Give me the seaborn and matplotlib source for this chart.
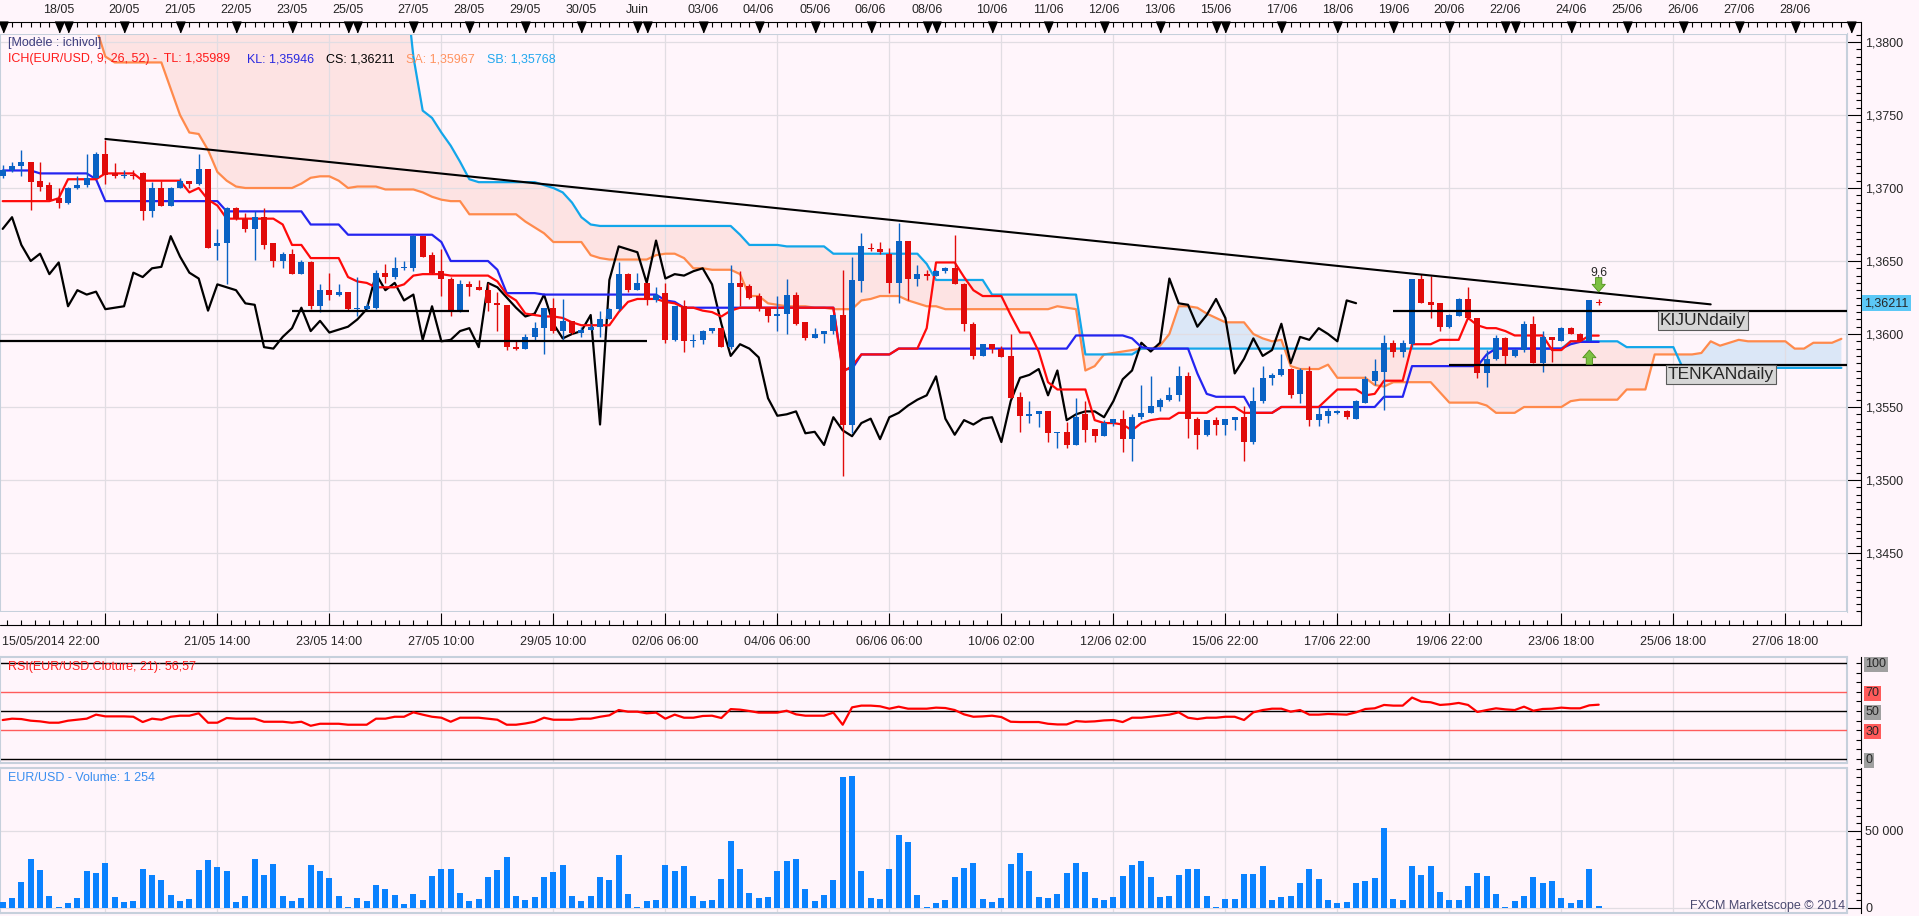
import numpy as np
import matplotlib
matplotlib.use("Agg")
import matplotlib.pyplot as plt
import matplotlib.transforms as mtransforms
from matplotlib.ticker import FixedLocator, MultipleLocator, FuncFormatter
import seaborn as sns

# ------------------------------------------------------------
# EUR/USD 4h candles
# bar 0 = 15/05 22:00 ... bar 171 = 24/06 10:00
# ------------------------------------------------------------
opens = [
    1.3708, 1.3712, 1.3715, 1.3718, 1.3705, 1.3702, 1.3693, 1.3690, 1.3700, 1.3702, 1.3707, 1.3723,
    1.3710, 1.3708, 1.3709, 1.3710, 1.3684, 1.3700, 1.3688, 1.3700, 1.3705, 1.3703, 1.3713, 1.3660,
    1.3662, 1.3686, 1.3679, 1.3672, 1.3680, 1.3662, 1.3650, 1.3655, 1.3641, 1.3649, 1.3619, 1.3630,
    1.3627, 1.3629, 1.3617, 1.3617, 1.3618, 1.3642, 1.3639, 1.3645, 1.3645, 1.3667, 1.3654, 1.3643,
    1.3638, 1.3616, 1.3634, 1.3632, 1.3630, 1.3621, 1.3620, 1.3591, 1.3590, 1.3598, 1.3604, 1.3618,
    1.3602, 1.3609, 1.3601, 1.3603, 1.3605, 1.3610, 1.3617, 1.3641, 1.3630, 1.3635, 1.3623, 1.3628,
    1.3596, 1.3619, 1.3595, 1.3596, 1.3602, 1.3604, 1.3591, 1.3635, 1.3633, 1.3626, 1.3618, 1.3612,
    1.3614, 1.3627, 1.3608, 1.3597, 1.3600, 1.3602, 1.3613, 1.3538, 1.3636, 1.3659, 1.3658, 1.3655,
    1.3635, 1.3664, 1.3638, 1.3641, 1.3640, 1.3643, 1.3645, 1.3634, 1.3607, 1.3585, 1.3593, 1.3590,
    1.3585, 1.3557, 1.3544, 1.3545, 1.3547, 1.3532, 1.3533, 1.3524, 1.3545, 1.3535, 1.3530, 1.3539,
    1.3542, 1.3528, 1.3543, 1.3546, 1.3550, 1.3555, 1.3558, 1.3571, 1.3542, 1.3531, 1.3541, 1.3538,
    1.3541, 1.3543, 1.3526, 1.3554, 1.3570, 1.3572, 1.3576, 1.3559, 1.3575, 1.3541, 1.3544, 1.3546,
    1.3547, 1.3542, 1.3553, 1.3568, 1.3574, 1.3594, 1.3588, 1.3593, 1.3638, 1.3622, 1.3621, 1.3605,
    1.3612, 1.3624, 1.3611, 1.3573, 1.3583, 1.3597, 1.3585, 1.3589, 1.3607, 1.3580, 1.3598, 1.3595,
    1.3604, 1.3600, 1.3595, 1.36215]
highs = [
    1.3716, 1.3718, 1.3726, 1.3718, 1.3718, 1.3704, 1.3700, 1.3701, 1.3708, 1.3723, 1.3725, 1.3733,
    1.3717, 1.3712, 1.3712, 1.3711, 1.3704, 1.3705, 1.3701, 1.3707, 1.3705, 1.3723, 1.3713, 1.3672,
    1.3687, 1.3687, 1.3683, 1.3684, 1.3686, 1.3662, 1.3656, 1.3658, 1.3651, 1.3650, 1.3634, 1.3642,
    1.3634, 1.3629, 1.3639, 1.3621, 1.3644, 1.3648, 1.3653, 1.3650, 1.3668, 1.3667, 1.3656, 1.3658,
    1.3639, 1.3637, 1.3636, 1.3637, 1.3635, 1.3629, 1.3620, 1.3596, 1.3600, 1.3608, 1.3618, 1.3625,
    1.3624, 1.3609, 1.3605, 1.3607, 1.3616, 1.3618, 1.3649, 1.3642, 1.3642, 1.3635, 1.3632, 1.3635,
    1.3619, 1.3623, 1.3600, 1.3603, 1.3604, 1.3604, 1.3647, 1.3643, 1.3634, 1.3628, 1.3618, 1.3626,
    1.3638, 1.3629, 1.3608, 1.3604, 1.3602, 1.3613, 1.3644, 1.3653, 1.3669, 1.3662, 1.3663, 1.3659,
    1.3676, 1.3664, 1.3647, 1.3644, 1.3644, 1.3646, 1.3668, 1.3635, 1.3608, 1.3593, 1.3593, 1.3592,
    1.3600, 1.3560, 1.3554, 1.3547, 1.3547, 1.3533, 1.3540, 1.3556, 1.3554, 1.3535, 1.3541, 1.3542,
    1.3548, 1.3545, 1.3565, 1.3571, 1.3556, 1.3564, 1.3578, 1.3574, 1.3543, 1.3541, 1.3543, 1.3542,
    1.3543, 1.3551, 1.3564, 1.3578, 1.3573, 1.3586, 1.3577, 1.3577, 1.3578, 1.3550, 1.3549, 1.3548,
    1.3548, 1.3555, 1.3571, 1.3583, 1.3599, 1.3596, 1.3596, 1.3638, 1.3641, 1.3640, 1.3621, 1.3614,
    1.3625, 1.3632, 1.3611, 1.3589, 1.3599, 1.3598, 1.3590, 1.3609, 1.3612, 1.3602, 1.3598, 1.3605,
    1.3605, 1.3601, 1.3623, 1.3624]
lows = [
    1.3707, 1.3711, 1.3708, 1.3685, 1.3698, 1.3692, 1.3686, 1.3689, 1.3699, 1.3701, 1.3707, 1.3703,
    1.3707, 1.3707, 1.3706, 1.3678, 1.3680, 1.3688, 1.3688, 1.3700, 1.3700, 1.3702, 1.3659, 1.3651,
    1.3634, 1.3678, 1.3670, 1.3651, 1.3658, 1.3646, 1.3645, 1.3641, 1.3641, 1.3617, 1.3615, 1.3623,
    1.3626, 1.3616, 1.3612, 1.3616, 1.3617, 1.3635, 1.3638, 1.3644, 1.3643, 1.3653, 1.3641, 1.3626,
    1.3612, 1.3615, 1.3626, 1.3630, 1.3616, 1.3602, 1.3589, 1.3589, 1.3590, 1.3595, 1.3586, 1.3601,
    1.3596, 1.3600, 1.3598, 1.3603, 1.3598, 1.3610, 1.3616, 1.3629, 1.3630, 1.3620, 1.3622, 1.3594,
    1.3595, 1.3588, 1.3591, 1.3593, 1.3601, 1.3591, 1.3590, 1.3619, 1.3624, 1.3616, 1.3608, 1.3602,
    1.3600, 1.3606, 1.3596, 1.3597, 1.3594, 1.3600, 1.3503, 1.3532, 1.3629, 1.3657, 1.3655, 1.3628,
    1.3621, 1.3623, 1.3633, 1.3637, 1.3640, 1.3642, 1.3634, 1.3602, 1.3583, 1.3585, 1.3587, 1.3584,
    1.3556, 1.3533, 1.3539, 1.3536, 1.3526, 1.3522, 1.3522, 1.3524, 1.3526, 1.3526, 1.3530, 1.3537,
    1.3519, 1.3513, 1.3542, 1.3546, 1.3547, 1.3554, 1.3554, 1.3529, 1.3521, 1.3530, 1.3531, 1.3531,
    1.3534, 1.3513, 1.3525, 1.3553, 1.3565, 1.3571, 1.3556, 1.3553, 1.3537, 1.3537, 1.3539, 1.3545,
    1.3542, 1.3542, 1.3553, 1.3565, 1.3548, 1.3584, 1.3584, 1.3591, 1.3621, 1.3611, 1.3602, 1.3604,
    1.3612, 1.3610, 1.3570, 1.3564, 1.3582, 1.3579, 1.3584, 1.3588, 1.3580, 1.3574, 1.3581, 1.3595,
    1.3600, 1.3595, 1.3595, 1.3620]
closes = [
    1.3712, 1.3715, 1.3718, 1.3704, 1.3701, 1.3692, 1.3690, 1.3700, 1.3702, 1.3707, 1.3723, 1.3709,
    1.3708, 1.3709, 1.3708, 1.3684, 1.3700, 1.3688, 1.3700, 1.3705, 1.3703, 1.3713, 1.3659, 1.3662,
    1.3686, 1.3679, 1.3672, 1.3680, 1.3661, 1.3650, 1.3655, 1.3641, 1.3649, 1.3619, 1.3630, 1.3627,
    1.3629, 1.3617, 1.3618, 1.3619, 1.3642, 1.3639, 1.3645, 1.3646, 1.3667, 1.3653, 1.3642, 1.3638,
    1.3616, 1.3634, 1.3632, 1.3630, 1.3621, 1.3620, 1.3591, 1.3590, 1.3598, 1.3604, 1.3618, 1.3602,
    1.3609, 1.3601, 1.3603, 1.3605, 1.3610, 1.3617, 1.3641, 1.3630, 1.3635, 1.3623, 1.3627, 1.3596,
    1.3619, 1.3595, 1.3596, 1.3602, 1.3604, 1.3591, 1.3635, 1.3632, 1.3625, 1.3618, 1.3612, 1.3614,
    1.3627, 1.3607, 1.3597, 1.3600, 1.3602, 1.3613, 1.3538, 1.3637, 1.3660, 1.3658, 1.3656, 1.3635,
    1.3664, 1.3638, 1.3641, 1.3640, 1.3643, 1.3645, 1.3634, 1.3607, 1.3585, 1.3593, 1.3590, 1.3584,
    1.3556, 1.3544, 1.3545, 1.3547, 1.3532, 1.3533, 1.3524, 1.3543, 1.3534, 1.3530, 1.3539, 1.3542,
    1.3528, 1.3543, 1.3546, 1.3551, 1.3555, 1.3558, 1.3571, 1.3542, 1.3531, 1.3541, 1.3538, 1.3542,
    1.3543, 1.3526, 1.3554, 1.3570, 1.3572, 1.3576, 1.3558, 1.3575, 1.3541, 1.3545, 1.3547, 1.3547,
    1.3543, 1.3554, 1.3569, 1.3575, 1.3594, 1.3588, 1.3594, 1.3638, 1.3621, 1.3620, 1.3605, 1.3613,
    1.3624, 1.3611, 1.3573, 1.3583, 1.3597, 1.3585, 1.3589, 1.3607, 1.3580, 1.3598, 1.3596, 1.3604,
    1.3600, 1.3595, 1.3623, 1.36211]

volumes = [
    3900, 6500, 16900, 31800, 24700, 7800, 650, 3200, 6500, 24000, 22700, 29200,
    7100, 3900, 4500, 25300, 21400, 18200, 8400, 4500, 5800, 24700, 31200, 26600,
    24000, 3900, 7800, 31800, 21400, 28600, 7800, 4500, 6500, 27900, 24000, 19500,
    7800, 650, 6500, 4500, 14900, 12300, 8400, 2600, 9100, 5200, 20800, 25300,
    25300, 9700, 4500, 5800, 20100, 24700, 33100, 7800, 5200, 7100, 20100, 23400,
    27900, 7800, 4500, 7800, 20100, 18200, 34400, 9100, 650, 4500, 5200, 27900,
    24000, 27300, 7800, 4500, 5200, 18800, 43500, 25300, 9700, 6500, 7100, 24000,
    30500, 31800, 12300, 4500, 8400, 18200, 85100, 85700, 24000, 6500, 5800, 25300,
    47400, 42900, 8400, 650, 3200, 5200, 20100, 26000, 29200, 5800, 3900, 6500,
    28600, 35700, 24000, 7100, 6500, 9100, 22700, 29200, 23400, 6500, 5200, 7100,
    20800, 27900, 30500, 20100, 7100, 7800, 21400, 25300, 25300, 7800, 650, 5800,
    5800, 22100, 22100, 27300, 5200, 7100, 7800, 16200, 25300, 18800, 5200, 3200,
    3900, 16200, 17500, 19500, 52000, 5800, 5200, 27300, 21400, 27300, 10400, 5200,
    5200, 14300, 22700, 20800, 9100, 650, 4500, 7800, 20100, 16200, 17500, 6500,
    3200, 5200, 25300, 1254]

rsi = [
    40.6, 42.0, 41.6, 39.9, 39.2, 37.8, 37.8, 39.9, 40.9, 42.0, 46.2, 44.4,
    44.4, 44.4, 44.0, 38.5, 42.0, 40.9, 44.0, 45.1, 45.1, 47.6, 37.8, 37.8,
    42.7, 42.0, 42.0, 42.0, 38.8, 38.8, 38.8, 37.8, 38.8, 34.6, 36.7, 36.7,
    36.7, 35.7, 35.7, 35.7, 42.0, 42.0, 44.0, 44.0, 48.6, 46.2, 44.0, 43.0,
    38.8, 43.0, 43.0, 43.0, 42.0, 40.9, 35.7, 35.7, 37.0, 38.8, 43.0, 40.9,
    40.9, 40.9, 42.0, 42.0, 44.0, 45.5, 51.0, 49.3, 49.3, 47.6, 48.3, 42.0,
    46.2, 43.0, 43.0, 44.8, 45.1, 42.7, 52.0, 51.4, 50.0, 48.3, 48.3, 48.3,
    50.3, 46.5, 45.1, 45.1, 45.1, 48.3, 35.7, 53.8, 55.6, 55.6, 54.9, 52.4,
    54.5, 52.4, 52.4, 52.4, 53.5, 53.1, 51.0, 46.5, 44.0, 44.4, 45.1, 43.7,
    38.8, 38.5, 38.5, 38.5, 36.7, 36.0, 36.0, 39.5, 38.8, 39.2, 40.2, 40.6,
    38.5, 43.0, 43.0, 44.0, 45.1, 46.2, 48.6, 43.0, 41.6, 43.0, 43.0, 44.0,
    44.0, 40.6, 48.6, 51.0, 52.4, 52.4, 49.3, 51.0, 46.2, 46.2, 46.9, 46.5,
    46.2, 48.6, 52.1, 52.8, 56.3, 55.6, 55.6, 64.0, 59.8, 59.1, 56.3, 57.0,
    58.4, 56.3, 49.0, 51.0, 52.8, 51.7, 51.0, 54.5, 50.3, 52.1, 52.4, 53.5,
    52.8, 52.8, 55.9, 56.57]

# Ichimoku lines, stored as (level, number of bars at that level)
tenkan_levels = [
    1.3691, 1.3693, 1.3706, 1.3710, 1.3705, 1.3697, 1.3700, 1.3692, 1.3688, 1.3679, 1.3675, 1.3661,
    1.3652, 1.3639, 1.3636, 1.3635, 1.3632, 1.3634, 1.3640, 1.3641, 1.3640, 1.3636, 1.3627, 1.3623,
    1.3614, 1.3613, 1.3612, 1.3611, 1.3608, 1.3606, 1.3615, 1.3622, 1.3624, 1.3622, 1.3621, 1.3618,
    1.3616, 1.3615, 1.3612, 1.3616, 1.3618, 1.3574, 1.3578, 1.3586, 1.3590, 1.3604, 1.3649, 1.3639,
    1.3630, 1.3626, 1.3613, 1.3601, 1.3588, 1.3567, 1.3562, 1.3541, 1.3539, 1.3538, 1.3534, 1.3539,
    1.3541, 1.3542, 1.3546, 1.3550, 1.3546, 1.3550, 1.3556, 1.3562, 1.3558, 1.3559, 1.3568, 1.3593,
    1.3596, 1.3611, 1.3606, 1.3604, 1.3602, 1.3599, 1.3589, 1.3595, 1.35989]
tenkan_runs = [
    6, 1, 4, 4, 5, 1, 1, 1, 1, 6, 1, 2,
    4, 1, 1, 1, 3, 1, 1, 3, 5, 1, 1, 1,
    1, 1, 2, 1, 1, 4, 1, 1, 3, 1, 1, 2,
    1, 1, 1, 1, 11, 1, 1, 4, 3, 1, 3, 1,
    1, 3, 1, 2, 1, 1, 4, 1, 2, 1, 1, 1,
    1, 2, 4, 3, 4, 5, 1, 3, 1, 1, 3, 3,
    3, 1, 1, 2, 1, 4, 2, 2, 2]

kijun_levels = [
    1.3712, 1.3710, 1.3706, 1.3691, 1.3684, 1.3675, 1.3668, 1.3663, 1.3650, 1.3644, 1.3628, 1.3627,
    1.3623, 1.3622, 1.3618, 1.3576, 1.3586, 1.3590, 1.3599, 1.3597, 1.3591, 1.3590, 1.3573, 1.3559,
    1.3557, 1.3546, 1.3550, 1.3557, 1.3578, 1.3586, 1.3590, 1.3593, 1.35946]
kijun_runs = [
    4, 6, 1, 13, 9, 4, 10, 1, 5, 1, 4, 13,
    1, 1, 17, 2, 4, 19, 6, 1, 1, 5, 1, 1,
    4, 3, 11, 3, 8, 1, 8, 1, 3]

# Senkou spans run 26 bars past the last candle (bars 0..197)
senkou_a_levels = [
    1.3830, 1.3810, 1.3790, 1.3786, 1.3768, 1.3750, 1.3738, 1.3737, 1.3726, 1.3711, 1.3705, 1.3701,
    1.3700, 1.3703, 1.3707, 1.3708, 1.3705, 1.3700, 1.3701, 1.3699, 1.3697, 1.3694, 1.3692, 1.3691,
    1.3682, 1.3677, 1.3673, 1.3669, 1.3663, 1.3654, 1.3652, 1.3651, 1.3654, 1.3655, 1.3652, 1.3645,
    1.3644, 1.3641, 1.3626, 1.3621, 1.3620, 1.3619, 1.3618, 1.3617, 1.3623, 1.3624, 1.3626, 1.3623,
    1.3621, 1.3619, 1.3617, 1.3619, 1.3618, 1.3617, 1.3575, 1.3578, 1.3586, 1.3587, 1.3588, 1.3589,
    1.3590, 1.3592, 1.3600, 1.3619, 1.3618, 1.3614, 1.3611, 1.3608, 1.3600, 1.3597, 1.3595, 1.3596,
    1.3578, 1.3576, 1.3579, 1.3570, 1.3565, 1.3564, 1.3567, 1.3560, 1.3553, 1.3551, 1.3546, 1.3550,
    1.3554, 1.3555, 1.3562, 1.3586, 1.3587, 1.3595, 1.3592, 1.3594, 1.3596, 1.3595, 1.3590, 1.3594,
    1.35967]
senkou_a_runs = [
    10, 1, 1, 6, 1, 1, 1, 1, 1, 1, 1, 1,
    6, 1, 1, 2, 1, 1, 3, 4, 1, 1, 1, 2,
    6, 1, 1, 1, 4, 1, 1, 5, 1, 2, 1, 2,
    3, 1, 2, 1, 1, 3, 2, 3, 1, 1, 3, 1,
    1, 2, 12, 1, 1, 1, 1, 1, 1, 1, 1, 1,
    2, 1, 1, 2, 1, 1, 1, 3, 1, 1, 1, 1,
    1, 3, 1, 4, 1, 1, 5, 1, 4, 1, 3, 5,
    1, 5, 3, 5, 1, 1, 1, 1, 1, 5, 2, 3,
    1]

senkou_b_levels = [
    1.3850, 1.3790, 1.3753, 1.3748, 1.3738, 1.3729, 1.3718, 1.3706, 1.3704, 1.3702, 1.3700, 1.3697,
    1.3690, 1.3680, 1.3675, 1.3674, 1.3668, 1.3661, 1.3660, 1.3655, 1.3648, 1.3637, 1.3627, 1.3586,
    1.3590, 1.3595, 1.3591, 1.35768]
senkou_b_runs = [
    44, 1, 1, 1, 1, 1, 1, 1, 7, 1, 1, 1,
    1, 1, 1, 15, 1, 4, 5, 10, 1, 6, 10, 6,
    46, 6, 6, 18]

# drawn objects on the chart
trend_bars = [11, 183]
trend_prices = [1.37336, 1.36203]
level_prices = [1.3595, 1.3616, 1.3616, 1.3579]
level_start = [-0.3, 31, 149, 155]
level_end = [69, 50, 200, 200]

# time axis
grid_bars = [11, 23, 35, 47, 59, 71, 83, 95, 107, 119, 131, 143, 155, 167, 179, 191]
bottom_labels = ["", "21/05 14:00", "23/05 14:00", "27/05 10:00", "29/05 10:00", "02/06 06:00",
                 "04/06 06:00", "06/06 06:00", "10/06 02:00", "12/06 02:00", "15/06 22:00",
                 "17/06 22:00", "19/06 22:00", "23/06 18:00", "25/06 18:00", "27/06 18:00"]
day_bars = [0, 6, 7, 13, 19, 25, 31, 37, 38, 44, 50, 56, 62, 68, 69, 75, 81, 87, 93, 99,
            100, 106, 112, 118, 124, 130, 131, 137, 143, 149, 155, 161, 162, 168, 174, 180,
            186, 192, 198]
day_labels = ["", "18/05", "", "20/05", "21/05", "22/05", "23/05", "25/05", "", "27/05",
              "28/05", "29/05", "30/05", "Juin", "", "03/06", "04/06", "05/06", "06/06", "08/06",
              "", "10/06", "11/06", "12/06", "13/06", "15/06", "", "17/06", "18/06", "19/06",
              "20/06", "22/06", "", "24/06", "25/06", "26/06", "27/06", "28/06", ""]

# ------------------------------------------------------------
sns.set_style("white")
plt.rcParams['font.family'] = ['Liberation Sans', 'DejaVu Sans']

BG = '#fff5fb'
FRAME = '#c6d0dc'
GRID = '#e1dde3'
BULL = '#0a62c4'
BEAR = '#e10b0b'

W, H = 1919, 916
fig = plt.figure(figsize=(W / 100, H / 100), dpi=100, facecolor=BG)


def rect(x0, y0, x1, y1):
    return [x0 / W, 1 - y1 / H, (x1 - x0) / W, (y1 - y0) / H]


def bar_at(px):
    # bar 0 sits at x=2.7px, 12 bars per 112px
    return (px - 2.7) / (112 / 12)


def ftext(x, y, s, **kw):
    fig.text(x / W, 1 - y / H, s, va='center', fontsize=9, **kw)


XLIM = (bar_at(0), bar_at(1847))
X_END = bar_at(1861)
PX = 1 / 14600  # price per pixel


def panel(ax):
    ax.set_facecolor(BG)
    for s in ('left', 'top', 'bottom'):
        ax.spines[s].set_color(FRAME)
        ax.spines[s].set_linewidth(1.5)
    ax.spines['right'].set_position(('outward', 10.08))
    ax.spines['right'].set_color('black')
    ax.spines['right'].set_linewidth(0.8)
    ax.plot([1, 1], [0, 1], transform=ax.transAxes, color=FRAME, lw=1.5, clip_on=False)
    ax.yaxis.tick_right()
    ax.tick_params(axis='y', which='both', direction='in', color='black', width=0.8,
                   labelsize=9, pad=3)
    ax.tick_params(axis='y', which='major', length=10)
    ax.tick_params(axis='y', which='minor', length=3.6)
    ax.set_xticks(grid_bars)
    ax.tick_params(axis='x', length=0, labelbottom=False)
    ax.grid(True, axis='x', color=GRID, lw=0.9)
    ax.set_axisbelow(True)


def strip(ax):
    ax.set_facecolor(BG)
    for s in ('left', 'top', 'bottom'):
        ax.spines[s].set_visible(False)
    ax.spines['right'].set_position(('outward', 10.08))
    ax.spines['right'].set_color('black')
    ax.spines['right'].set_linewidth(0.8)
    ax.set_xticks([])
    ax.set_yticks([])
    ax.set_xlim(XLIM)


o = np.array(opens); h = np.array(highs); l = np.array(lows); c = np.array(closes)
idx = np.arange(len(c))
cx = np.arange(len(c) + 26)
tenkan = np.repeat(tenkan_levels, tenkan_runs)
kijun = np.repeat(kijun_levels, kijun_runs)
span_a = np.repeat(senkou_a_levels, senkou_a_runs)
span_b = np.repeat(senkou_b_levels, senkou_b_runs)

# ---------------- price panel ----------------
axp = fig.add_axes(rect(0, 34, 1847, 612))
panel(axp)
axp.fill_between(cx, span_a, span_b, where=span_a >= span_b, interpolate=True,
                 color='#dbe7f7', lw=0, zorder=0.2)
axp.fill_between(cx, span_a, span_b, where=span_a < span_b, interpolate=True,
                 color='#fde3e3', lw=0, zorder=0.2)
sns.lineplot(x=cx, y=span_a, ax=axp, color='#ff8a4c', lw=1.6, estimator=None, zorder=2)
sns.lineplot(x=cx, y=span_b, ax=axp, color='#12a6ea', lw=1.6, estimator=None, zorder=2)
sns.lineplot(x=idx[:-26], y=c[26:], ax=axp, color='black', lw=1.6, estimator=None, zorder=3)
sns.lineplot(x=idx, y=kijun, ax=axp, color='#2424f0', lw=1.6, estimator=None, zorder=3)
sns.lineplot(x=idx, y=tenkan, ax=axp, color='#ff0a0a', lw=1.6, estimator=None, zorder=3)

col = np.where(c >= o, BULL, BEAR)
axp.vlines(idx, l, h, colors=col, lw=1.0, zorder=4)
axp.bar(idx, np.maximum(np.abs(c - o), 0.00008), bottom=np.minimum(o, c), width=0.62,
        color=col, lw=0, zorder=5)

axp.plot(trend_bars, trend_prices, color='black', lw=1.5, zorder=6)
axp.hlines(level_prices, level_start, level_end, colors='black', lw=1.6, zorder=6)

axp.text(bar_at(1660), level_prices[2] - 2 * PX, 'KIJUNdaily', ha='left', va='top',
         fontsize=12.5, zorder=7,
         bbox=dict(boxstyle='square,pad=0.12', fc='#d6d6d6', ec='#5a5a5a', lw=0.8))
axp.text(bar_at(1668), level_prices[3] - 2 * PX, 'TENKANdaily', ha='left', va='top',
         fontsize=12.5, zorder=7,
         bbox=dict(boxstyle='square,pad=0.12', fc='#d6d6d6', ec='#5a5a5a', lw=0.8))

last = len(c) - 1
axp.annotate('', xy=(last, 1.36288), xytext=(last, 1.36386),
             arrowprops=dict(arrowstyle='simple,head_width=0.95,head_length=0.55,tail_width=0.45',
                             fc='#7cc142', ec='#4f8f1a', lw=0.6, shrinkA=0, shrinkB=0,
                             mutation_scale=10), zorder=8)
axp.annotate('', xy=(last - 1, 1.35890), xytext=(last - 1, 1.35792),
             arrowprops=dict(arrowstyle='simple,head_width=0.95,head_length=0.55,tail_width=0.45',
                             fc='#7cc142', ec='#4f8f1a', lw=0.6, shrinkA=0, shrinkB=0,
                             mutation_scale=10), zorder=8)
axp.text(last, 1.36418, '9,6', ha='center', va='center', fontsize=8.8, zorder=8)

axp.yaxis.set_major_locator(FixedLocator([1.3450, 1.3500, 1.3550, 1.3600, 1.3650, 1.3700,
                                          1.3750, 1.3800]))
axp.yaxis.set_minor_locator(MultipleLocator(0.0005))
axp.yaxis.set_major_formatter(FuncFormatter(lambda v, p: f"{v:.4f}".replace('.', ',')))
axp.grid(True, axis='y', which='major', color=GRID, lw=0.9)
axp.set_xlim(XLIM)
axp.set_ylim(1.3600 - 278 * PX, 1.3600 + 300 * PX)
axp.set_xlabel('')
axp.set_ylabel('')
tr = mtransforms.blended_transform_factory(axp.transAxes, axp.transData)
axp.text(1864 / 1847, closes[-1], '1,36211', transform=tr, ha='left', va='center',
         fontsize=9, clip_on=False,
         bbox=dict(boxstyle='square,pad=0.18', fc='#5cc8f6', ec='none'))

# ---------------- top date strip ----------------
axt = fig.add_axes(rect(0, 22, 1847, 34))
strip(axt)
axt.set_ylim(12, 0)
axt.plot([XLIM[0], X_END], [0, 0], color='black', lw=0.8, clip_on=False)
axt.vlines(np.arange(0, 199), 0, 5, colors='black', lw=0.8, clip_on=False)
tri = [(-0.42, 0.5), (0.42, 0.5), (0, -0.5)]
axt.plot(day_bars, [5.2] * len(day_bars), ls='none', marker=tri, ms=7.8, color='black',
         clip_on=False)
for b, s in zip(day_bars, day_labels):
    if s:
        axt.text(b, -12, s, ha='center', va='center', fontsize=9, clip_on=False)

# ---------------- bottom time strip ----------------
axb = fig.add_axes(rect(0, 612, 1847, 625))
strip(axb)
axb.set_ylim(13, 0)
axb.plot([XLIM[0], X_END], [13, 13], color='black', lw=0.8, clip_on=False)
axb.vlines(np.arange(0.5, 198, 1.5), 8, 13, colors='black', lw=0.8)
axb.vlines(grid_bars, 1, 13, colors='black', lw=0.8)
axb.text(bar_at(2), 30, '15/05/2014 22:00', ha='left', va='center', fontsize=9, clip_on=False)
for b, s in zip(grid_bars, bottom_labels):
    if s:
        axb.text(b, 30, s, ha='center', va='center', fontsize=9, clip_on=False)

# ---------------- RSI panel ----------------
axr = fig.add_axes(rect(0, 657, 1847, 763))
panel(axr)
sns.lineplot(x=idx, y=rsi, ax=axr, color='#ff0000', lw=1.6, estimator=None, zorder=3)
axr.axhline(100, color='black', lw=1.0)
axr.axhline(50, color='black', lw=1.0)
axr.axhline(0, color='black', lw=1.0)
axr.axhline(70, color='#ff5c5c', lw=1.0)
axr.axhline(30, color='#ff5c5c', lw=1.0)
axr.set_yticks([0, 30, 50, 70, 100])
axr.set_yticklabels(['0', '30', '50', '70', '100'])
axr.yaxis.set_minor_locator(MultipleLocator(10))
axr.tick_params(axis='y', which='major', length=3.6)
for lab, fc in zip(axr.get_yticklabels(), ['#a0a0a0', '#ff5a5a', '#a0a0a0', '#ff5a5a', '#a0a0a0']):
    lab.set_bbox(dict(boxstyle='square,pad=0.12', fc=fc, ec='none'))
axr.set_xlim(XLIM)
axr.set_ylim(-4.17, 106.25)
axr.set_xlabel('')
axr.set_ylabel('')

# ---------------- volume panel ----------------
axv = fig.add_axes(rect(0, 768, 1847, 913))
panel(axv)
axv.bar(idx, volumes, width=0.63, color='#0a82ff', lw=0, zorder=3)
axv.set_yticks([0, 50000])
axv.set_yticklabels(['0', '50 000'])
axv.yaxis.set_minor_locator(MultipleLocator(5000))
axv.grid(True, axis='y', which='major', color=GRID, lw=0.9)
axv.set_xlim(XLIM)
axv.set_ylim(-3247, 90909)

# ---------------- texts ----------------
ftext(8, 43, '[Modèle : ichivol]', color='#3d3d7d')
ftext(8, 59, 'ICH(EUR/USD, 9, 26, 52) -  TL: 1,35989', color='#ff1a1a')
ftext(247, 59, 'KL: 1,35946', color='#2a2ae0')
ftext(326, 59, 'CS: 1,36211', color='black')
ftext(406, 59, 'SA: 1,35967', color='#ff9360')
ftext(487, 59, 'SB: 1,35768', color='#22a8ee')
ftext(8, 667, 'RSI(EUR/USD.Cloture, 21): 56,57', color='#ff2020')
ftext(8, 778, 'EUR/USD - Volume: 1 254', color='#3a8ef0')
ftext(1845, 906, 'FXCM Marketscope © 2014', color='#4a4a70', ha='right')

fig.savefig('out.png', dpi=100, facecolor=BG)
